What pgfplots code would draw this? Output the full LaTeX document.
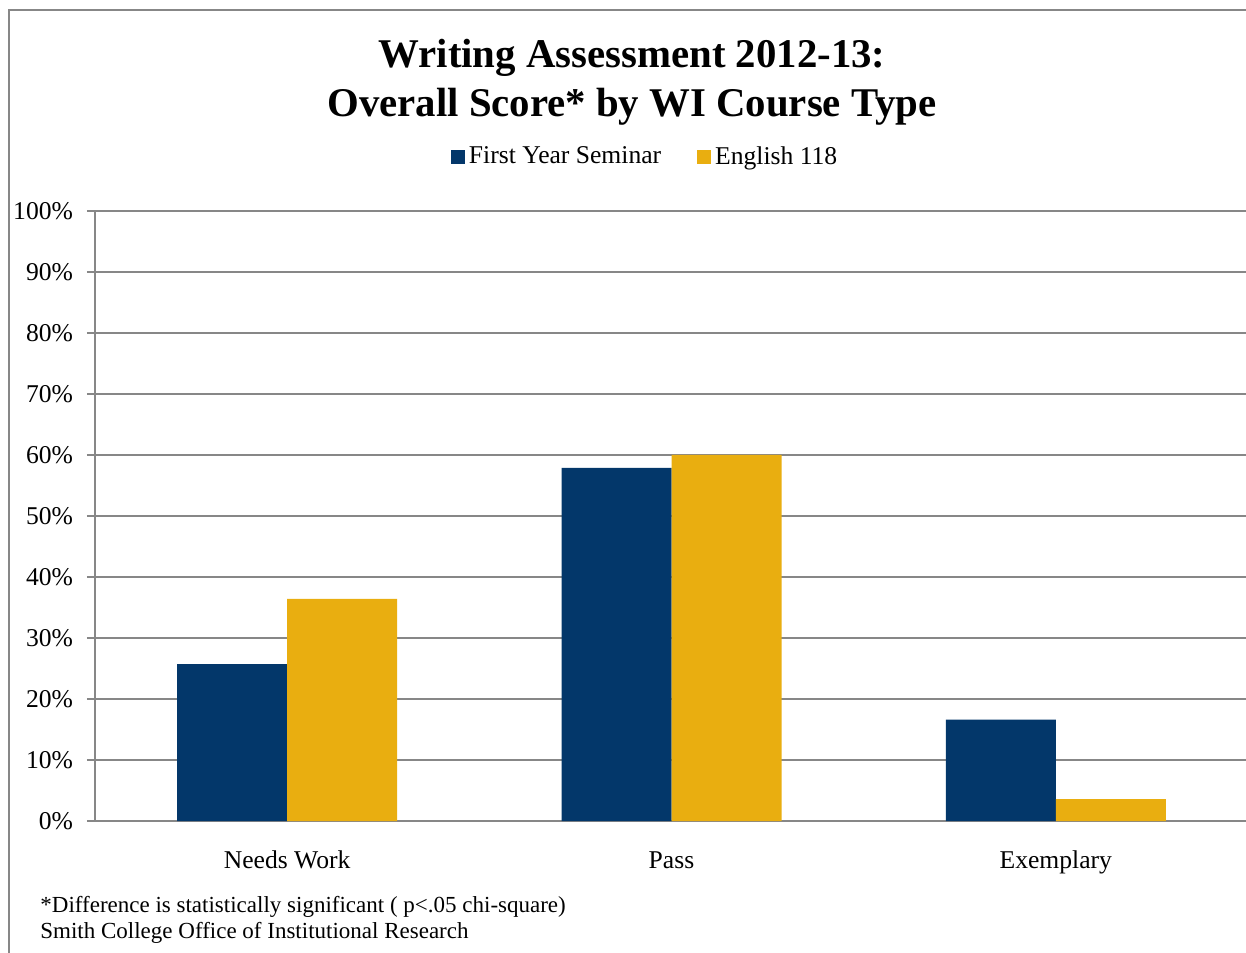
\documentclass[border=0pt]{standalone}
\usepackage{fontspec}
\setmainfont{Liberation Serif}
\usepackage{pgfplots}
\pgfplotsset{compat=1.18}
\definecolor{navy}{HTML}{03376A}
\definecolor{gold}{HTML}{E9AE10}
\definecolor{gridgray}{HTML}{878787}
\begin{document}
\begin{tikzpicture}
\path[use as bounding box] (-47.5bp,-66bp) rectangle (575.5bp,410.5bp);
\draw[gridgray, line width=1.2bp] (-43bp,-70bp) -- (-43bp,405.5bp) -- (580bp,405.5bp);
\begin{axis}[
  at={(0,0)}, anchor=south west,
  scale only axis,
  width=576.5bp, height=305bp,
  xmin=-0.5, xmax=2.5,
  ymin=0, ymax=100,
  axis x line*=bottom, axis y line*=left,
  axis line style={gridgray, line width=1bp},
  ybar=0pt, bar width=55bp,
  xtick={0,1,2},
  xticklabels={Needs Work, Pass, Exemplary},
  x tick style={draw=none},
  extra x ticks={-0.5,0.5,1.5,2.5},
  extra x tick labels={},
  extra x tick style={tick style={draw=gridgray, line width=1bp}, major tick length=4bp, tick align=outside, grid=none},
  ytick={0,10,...,100},
  yticklabel={\pgfmathprintnumber{\tick}\%},
  /pgf/number format/assume math mode=true,
  y tick style={draw=gridgray, line width=1bp},
  tick align=outside, major tick length=4bp,
  ymajorgrids, grid style={gridgray, line width=1bp},
  ticklabel style={font=\fontsize{12.8bp}{14bp}\selectfont, text=black},
  yticklabel style={xshift=-3.5bp},
  xticklabel style={anchor=base, yshift=-19.5bp},
  legend style={at={(0.478,1.0885)}, anchor=center, draw=none, fill=none,
    legend columns=2, font=\fontsize{12.8bp}{14bp}\selectfont,
    /tikz/every even column/.append style={column sep=16bp}},
  legend image code/.code={\fill[#1] (0bp,-3.5bp) rectangle (7bp,3.5bp);},
  clip=false,
]
\addplot[fill=navy, draw=none] coordinates {(0,25.7) (1,57.9) (2,16.6)};
\addplot[fill=gold, draw=none] coordinates {(0,36.4) (1,60.0) (2,3.6)};
\legend{First Year Seminar, English 118}
\end{axis}
\node[anchor=base, font=\bfseries\fontsize{20.4bp}{24bp}\selectfont] at (268.5bp,376.5bp) {Writing Assessment 2012-13:};
\node[anchor=base, font=\bfseries\fontsize{20.4bp}{24bp}\selectfont] at (268.5bp,352bp) {Overall Score* by WI Course Type};
\node[anchor=base west, inner sep=0pt, font=\fontsize{11.5bp}{13bp}\selectfont] at (-27.5bp,-45.5bp) {*Difference is statistically significant ( p<.05 chi-square)};
\node[anchor=base west, inner sep=0pt, font=\fontsize{11.5bp}{13bp}\selectfont] at (-27.5bp,-58.5bp) {Smith College Office of Institutional Research};
\end{tikzpicture}
\end{document}
